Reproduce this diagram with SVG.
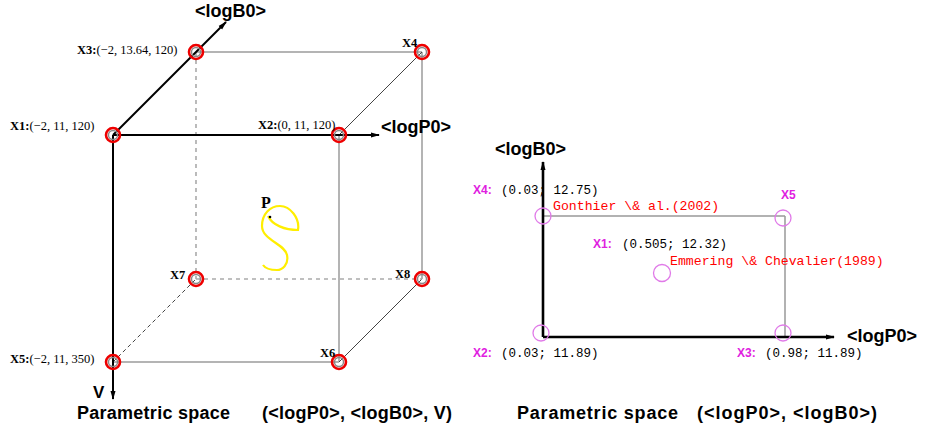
<svg xmlns="http://www.w3.org/2000/svg" width="925" height="433" viewBox="0 0 925 433">
<style>
.axis{stroke:#000;stroke-width:2;fill:none}
.axis2{stroke:#000;stroke-width:2.6;fill:none}
.edge{stroke:#b4b4b4;stroke-width:2;fill:none}
.diag{stroke:#444;stroke-width:1;fill:none}
.dash{stroke:#aaa;stroke-width:1.6;stroke-dasharray:4,4;fill:none}
.dashd{stroke:#444;stroke-width:1;stroke-dasharray:4,3;fill:none}
.ring{stroke:#e00;stroke-width:2.6;fill:none}
.inner{stroke:#888;stroke-width:1.4;fill:none}
.mc{stroke:#e07ae8;stroke-width:1.3;fill:none}
.big{font-family:"Liberation Sans",Arial,sans-serif;font-size:18px;font-weight:bold;fill:#000}
.tl{font-family:"Liberation Serif","Times New Roman",serif;font-size:12.5px;fill:#000}
.tlb{font-weight:bold}
.ml{font-family:"Liberation Sans",Arial,sans-serif;font-size:12px;font-weight:bold;fill:#e020e0}
.mono{font-family:"Liberation Mono","Courier New",monospace;font-size:12.5px;fill:#000}
.red{font-family:"Liberation Mono","Courier New",monospace;font-size:13.2px;fill:#f00}
</style>
<defs>
<marker id="ah" markerWidth="9" markerHeight="6" refX="8" refY="3" orient="auto" markerUnits="userSpaceOnUse">
<path d="M0,0.5 L9,3 L0,5.5 z" fill="#000"/>
</marker>
</defs>
<g id="connectors">
<line class="edge" x1="196" y1="52" x2="422" y2="52"/>
<line class="edge" x1="422" y1="52" x2="422" y2="279"/>
<line class="edge" x1="339" y1="135" x2="339" y2="362"/>
<line class="edge" x1="113" y1="362" x2="339" y2="362"/>
<line class="diag" x1="339" y1="135" x2="422" y2="52"/>
<line class="diag" x1="339" y1="362" x2="422" y2="279"/>
<line class="dash" x1="196" y1="52" x2="196" y2="279"/>
<line class="dash" x1="196" y1="279" x2="422" y2="279"/>
<line class="dashd" x1="113" y1="362" x2="196" y2="279"/>
<line class="axis" x1="113" y1="135" x2="379" y2="135" marker-end="url(#ah)"/>
<line class="axis" x1="113" y1="135" x2="226" y2="22" marker-end="url(#ah)"/>
<line class="axis" x1="113" y1="135" x2="113" y2="399" marker-end="url(#ah)"/>
<line class="edge" x1="543" y1="216" x2="785" y2="216" style="stroke:#999;stroke-width:1.5"/>
<line class="edge" x1="785" y1="216" x2="785" y2="337" style="stroke:#999;stroke-width:1.5"/>
<line class="axis2" x1="543" y1="337" x2="543" y2="162" marker-end="url(#ah)"/>
<line class="axis2" x1="543" y1="337" x2="834" y2="337" marker-end="url(#ah)"/>
</g>
<g id="X1"><circle class="ring" cx="113" cy="135" r="7"/><circle class="inner" cx="113" cy="135" r="4.5"/>
<text class="tl" x="10" y="130"><tspan class="tlb">X1:</tspan>(−2, 11, 120)</text></g>
<g id="X2"><circle class="ring" cx="339" cy="135" r="7"/><circle class="inner" cx="339" cy="135" r="4.5"/>
<text class="tl" x="258" y="129"><tspan class="tlb">X2:</tspan>(0, 11, 120)</text></g>
<g id="X3"><circle class="ring" cx="196" cy="52" r="7"/><circle class="inner" cx="196" cy="52" r="4.5"/>
<text class="tl" x="77" y="54"><tspan class="tlb">X3:</tspan>(−2, 13.64, 120)</text></g>
<g id="X4"><circle class="ring" cx="422" cy="52" r="7"/><circle class="inner" cx="422" cy="52" r="4.5"/>
<text class="tl tlb" x="402" y="47">X4</text></g>
<g id="X5"><circle class="ring" cx="113" cy="362" r="7"/><circle class="inner" cx="113" cy="362" r="4.5"/>
<text class="tl" x="10" y="363"><tspan class="tlb">X5:</tspan>(−2, 11, 350)</text></g>
<g id="X6"><circle class="ring" cx="339" cy="362" r="7"/><circle class="inner" cx="339" cy="362" r="4.5"/>
<text class="tl tlb" x="320" y="357">X6</text></g>
<g id="X7"><circle class="ring" cx="196" cy="279" r="7"/><circle class="inner" cx="196" cy="279" r="4.5"/>
<text class="tl tlb" x="170" y="279">X7</text></g>
<g id="X8"><circle class="ring" cx="422" cy="279" r="7"/><circle class="inner" cx="422" cy="279" r="4.5"/>
<text class="tl tlb" x="395" y="278">X8</text></g>
<g id="P">
<path d="M268 216 C272 225,285 230,298 230 C300 218,290 206,280 206 C270 206,262 214,262 226 C262 240,285 244,287 255 C289 265,282 270,277 270 C270 270,265 268,263 265" stroke="#ffee00" stroke-width="2.2" fill="none"/>
<circle cx="270" cy="217" r="1.3" fill="#000"/>
<text x="261" y="208" style="font-family:'Liberation Serif',serif;font-size:16px;font-weight:bold">P</text>
</g>
<g id="left-labels">
<text class="big" x="195" y="17">&lt;logB0&gt;</text>
<text class="big" x="381" y="133">&lt;logP0&gt;</text>
<text class="big" x="93" y="398" style="font-size:17px">V</text>
<text class="big" x="77" y="419" textLength="153">Parametric space</text>
<text class="big" x="262" y="419" textLength="190">(&lt;logP0&gt;, &lt;logB0&gt;, V)</text>
</g>
<g id="R-X4"><circle class="mc" cx="543" cy="216" r="8"/>
<text class="ml" x="473" y="194">X4:</text><text class="mono" x="501" y="194">(0.03; 12.75)</text>
<text class="red" x="553" y="210">Gonthier \&amp; al.(2002)</text></g>
<g id="R-X5"><circle class="mc" cx="783" cy="218" r="8"/>
<text class="ml" x="781" y="199">X5</text></g>
<g id="R-X1"><circle class="mc" cx="662" cy="273" r="8.5"/>
<text class="ml" x="593" y="248">X1:</text><text class="mono" x="622" y="248">(0.505; 12.32)</text>
<text class="red" x="670" y="265">Emmering \&amp; Chevalier(1989)</text></g>
<g id="R-X2"><circle class="mc" cx="541" cy="333" r="8"/>
<text class="ml" x="473" y="357">X2:</text><text class="mono" x="501" y="357">(0.03; 11.89)</text></g>
<g id="R-X3"><circle class="mc" cx="783" cy="333" r="8"/>
<text class="ml" x="737" y="357">X3:</text><text class="mono" x="765" y="357">(0.98; 11.89)</text></g>
<g id="right-labels">
<text class="big" x="495" y="155">&lt;logB0&gt;</text>
<text class="big" x="847" y="342">&lt;logP0&gt;</text>
<text class="big" x="517" y="419" textLength="161">Parametric space</text>
<text class="big" x="697" y="419" textLength="180">(&lt;logP0&gt;, &lt;logB0&gt;)</text>
</g>
</svg>
